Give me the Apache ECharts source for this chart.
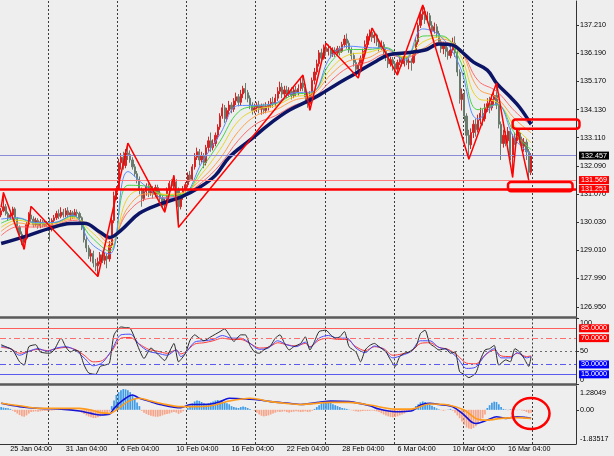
<!DOCTYPE html>
<html><head><meta charset="utf-8">
<script src="https://cdn.jsdelivr.net/npm/echarts@6/dist/echarts.min.js"></script>
<style>html,body{margin:0;padding:0;background:#eeeeee}#c{width:614px;height:456px}</style>
</head><body><div id="c"></div>
<script>
// ---------- data ----------
const slotCount = 250;
const timeLabels = ['25 Jan 04:00','31 Jan 04:00','6 Feb 04:00','10 Feb 04:00','16 Feb 04:00','22 Feb 04:00','28 Feb 04:00','6 Mar 04:00','10 Mar 04:00','16 Mar 04:00'];
const timeLabelIdx = [4,28,52,76,100,124,148,172,196,220];
const weekStartIdx = [21,51,81,111,141,171,201,231];
const priceTicks = [137.21,136.19,135.17,134.13,133.11,132.09,131.07,130.03,129.01,127.99,126.95];
const rsiTicks = [0,50,100];
const macdTicks = [1.28049,0,-1.83517];
const bidPrice = 132.457;
const levelA = 131.569;
const levelB = 131.251;
const rsiLevels = [85,70,50,30,15];

// [open, close, low, high]
const candles = [
[130.30,130.45,130.22,130.55],[130.45,130.60,130.40,131.12],[130.60,130.35,130.28,130.70],[130.35,130.20,130.10,130.42],[130.20,130.30,130.12,130.45],
[130.30,130.52,130.25,130.60],[130.52,130.15,130.05,130.58],[130.15,129.85,129.75,130.22],[129.85,129.60,129.50,129.92],[129.60,129.30,129.20,129.70],
[129.30,129.45,129.05,129.55],[129.45,129.95,129.40,130.05],[129.95,130.30,129.88,130.40],[130.30,130.15,130.05,130.61],[130.15,129.95,129.85,130.25],
[129.95,130.10,129.88,130.20],[130.10,129.90,129.80,130.18],[129.90,130.05,129.82,130.15],[130.05,129.92,129.85,130.12],[129.92,130.02,129.86,130.10],
[130.02,129.95,129.88,130.08],[129.95,129.85,129.35,130.20],[129.85,130.10,129.70,130.18],[130.10,130.20,130.02,130.30],[130.20,130.35,130.12,130.45],
[130.35,130.25,130.15,130.50],[130.25,130.40,130.18,130.58],[130.40,130.30,130.20,130.52],[130.30,130.45,130.22,130.55],[130.45,130.30,130.20,130.58],
[130.30,130.38,130.10,130.48],[130.38,130.25,130.15,130.45],[130.25,130.40,130.18,130.52],[130.40,130.35,130.22,130.50],[130.35,130.20,130.05,130.42],
[130.20,129.85,129.75,130.25],[129.85,129.40,129.30,129.95],[129.40,129.10,128.95,129.50],[129.10,128.80,128.70,129.20],[128.80,128.90,128.60,129.05],
[128.90,128.55,128.40,129.00],[128.55,128.45,128.25,128.70],[128.45,128.60,128.06,128.75],[128.60,128.85,128.50,128.95],[128.85,128.65,128.55,129.00],
[128.65,128.80,128.50,128.95],[128.80,128.70,128.36,128.90],[128.70,129.20,128.60,129.35],[129.20,130.10,129.10,130.25],[130.10,131.00,130.00,131.15],
[131.00,131.25,130.85,131.35],[131.25,132.20,131.20,132.35],[132.20,132.40,131.95,132.55],[132.40,132.10,131.95,132.60],[132.10,132.55,132.00,132.70],
[132.55,132.50,132.30,132.91],[132.50,132.30,132.20,132.65],[132.30,132.05,131.95,132.40],[132.05,131.80,131.70,132.15],[131.80,131.60,131.45,131.90],
[131.60,131.20,131.05,131.70],[131.20,130.90,130.60,131.30],[130.90,131.15,130.80,131.25],[131.15,131.35,131.00,131.45],[131.35,131.10,130.95,131.45],
[131.10,131.25,131.00,131.40],[131.25,131.05,130.90,131.35],[131.05,131.30,130.95,131.40],[131.30,131.10,130.95,131.40],[131.10,130.90,130.75,131.20],
[130.90,130.65,130.55,131.00],[130.65,130.80,130.40,130.90],[130.80,131.20,130.70,131.30],[131.20,131.45,131.10,131.55],[131.45,131.35,131.20,131.60],
[131.35,131.50,131.25,131.74],[131.50,131.20,131.05,131.60],[131.20,130.60,129.85,131.30],[130.60,131.00,130.50,131.10],[131.00,131.20,130.85,131.35],
[131.20,131.40,131.05,131.50],[131.40,131.75,131.30,131.85],[131.75,131.60,131.50,131.90],[131.60,132.05,131.55,132.15],[132.05,132.40,131.95,132.55],
[132.40,132.60,132.30,132.75],[132.60,132.30,132.10,132.70],[132.30,132.45,132.20,132.60],[132.45,132.20,132.00,132.55],[132.20,132.75,132.10,132.85],
[132.75,133.00,132.60,133.15],[133.00,132.75,132.60,133.30],[132.75,132.90,132.65,133.05],[132.90,133.20,132.80,133.30],[133.20,133.50,133.05,133.60],
[133.50,133.90,133.40,134.00],[133.90,134.20,133.80,134.35],[134.20,133.80,133.65,134.30],[133.80,134.10,133.70,134.20],[134.10,134.30,133.95,134.45],
[134.30,134.15,134.00,134.40],[134.15,134.45,134.05,134.55],[134.45,134.60,134.30,134.75],[134.60,134.40,134.25,134.70],[134.40,134.70,134.30,134.85],
[134.70,134.90,134.55,135.00],[134.90,134.75,134.50,135.10],[134.75,134.55,134.40,134.85],[134.55,134.30,134.15,134.65],[134.30,134.10,133.95,134.40],
[134.10,134.20,134.00,134.35],[134.20,134.30,134.05,134.40],[134.30,134.15,134.00,134.45],[134.15,134.25,133.95,134.35],[134.25,134.10,133.98,134.35],
[134.10,134.25,134.00,134.40],[134.25,134.30,134.10,134.45],[134.30,134.40,134.20,134.55],[134.40,134.35,134.20,134.60],[134.35,134.55,134.25,134.70],
[134.55,134.80,134.45,134.95],[134.80,134.95,134.70,135.15],[134.95,134.70,134.55,135.10],[134.70,134.85,134.60,135.00],[134.85,134.70,134.55,135.00],
[134.70,134.80,134.60,134.95],[134.80,134.65,134.50,134.95],[134.65,134.85,134.55,134.95],[134.85,134.75,134.60,135.00],[134.75,134.90,134.65,135.05],
[134.90,135.10,134.80,135.25],[135.10,134.95,134.80,135.39],[134.95,134.60,134.45,135.05],[134.60,134.35,134.20,134.70],[134.35,134.70,134.11,134.80],
[134.70,135.20,134.60,135.30],[135.20,135.50,135.05,135.65],[135.50,135.80,135.40,135.95],[135.80,136.20,135.70,136.30],[136.20,136.00,135.85,136.35],
[136.00,136.40,135.95,136.50],[136.40,136.25,136.10,136.55],[136.25,136.35,136.10,136.50],[136.35,136.15,136.00,136.45],[136.15,136.30,136.05,136.40],
[136.30,136.20,136.05,136.40],[136.20,136.35,136.10,136.45],[136.35,136.25,136.10,136.45],[136.25,136.50,136.20,136.60],[136.50,136.70,136.40,136.85],
[136.70,136.55,136.35,136.90],[136.55,136.30,136.20,136.65],[136.30,136.10,135.95,136.40],[136.10,135.85,135.70,136.20],[135.85,135.60,135.45,135.95],
[135.60,135.75,135.28,135.85],[135.75,136.00,135.65,136.10],[136.00,136.25,135.90,136.35],[136.25,136.50,136.15,136.65],[136.50,136.80,136.40,136.90],
[136.80,136.95,136.65,137.05],[136.95,136.75,136.60,137.10],[136.75,136.85,136.55,136.95],[136.85,136.60,136.45,136.90],[136.60,136.40,136.25,136.70],
[136.40,136.50,136.30,136.65],[136.50,136.25,136.10,136.60],[136.25,136.05,135.90,136.35],[136.05,135.80,135.65,136.15],[135.80,135.95,135.70,136.05],
[135.95,135.80,135.55,136.05],[135.80,135.60,135.45,135.90],[135.60,135.85,135.39,135.95],[135.85,135.95,135.75,136.10],[135.95,135.80,135.70,136.05],
[135.80,135.95,135.70,136.05],[135.95,135.85,135.75,136.05],[135.85,135.90,135.60,136.00],[135.90,135.85,135.55,136.00],[135.85,136.20,135.80,136.30],
[136.20,136.60,136.10,136.75],[136.60,137.20,136.50,137.30],[137.20,137.60,137.10,137.75],[137.60,137.70,137.40,137.94],[137.70,137.40,137.25,137.85],
[137.40,137.55,137.30,137.70],[137.55,137.20,137.05,137.65],[137.20,137.00,136.85,137.35],[137.00,137.15,136.90,137.30],[137.15,136.90,136.75,137.25],
[136.90,136.60,136.50,137.00],[136.60,136.35,136.20,136.70],[136.35,136.50,136.15,136.60],[136.50,136.25,136.05,136.60],[136.25,136.10,135.95,136.40],
[136.10,136.30,136.00,136.45],[136.30,136.55,136.20,136.75],[136.55,136.20,136.05,136.80],[136.20,135.50,135.35,136.30],[135.50,134.50,134.35,135.60],
[134.50,134.70,134.10,134.90],[134.70,133.90,133.70,134.85],[133.90,133.20,132.90,134.00],[133.20,132.85,132.33,133.40],[132.85,133.30,132.70,133.45],
[133.30,133.60,133.10,133.75],[133.60,133.40,133.15,133.80],[133.40,133.75,133.30,133.95],[133.75,134.00,133.60,134.20],[134.00,133.80,133.55,134.15],
[133.80,134.20,133.70,134.35],[134.20,134.35,134.05,134.55],[134.35,134.20,134.00,134.60],[134.20,134.50,134.10,134.70],[134.50,134.65,134.30,134.85],
[134.65,134.30,134.15,135.10],[134.30,133.60,133.45,134.40],[133.60,132.90,132.30,133.70],[132.90,133.20,132.75,133.40],[133.20,133.00,132.80,133.35],
[133.00,133.35,132.90,133.50],[133.35,132.40,132.30,133.45],[132.40,133.10,131.67,133.25],[133.10,133.00,132.85,133.30],[133.00,133.30,132.90,133.46],
[133.30,133.05,132.90,133.40],[133.05,132.80,132.65,133.15],[132.80,132.95,132.60,133.10],[132.95,132.60,132.30,133.05],[132.60,131.85,131.56,132.70],
[131.85,132.457,131.75,132.55]
];

const zigzag = [[0,130.58],[1,131.12],[10,129.05],[13,130.61],[42,128.06],[55,132.91],[71,130.40],[75,131.74],[77,129.85],[131,135.39],[134,134.11],[141,136.55],[155,135.28],[161,137.10],[172,135.39],[183,137.94],[203,132.33],[215,135.10],[222,131.67],[224,133.46],[229,131.56]];

const navyMA = [[0,129.26],[12,129.56],[21,129.81],[30,129.99],[36,130.0],[43,129.67],[47,129.48],[52,129.74],[60,130.36],[69,130.7],[78,130.95],[86,131.3],[93,131.74],[99,132.4],[108,133.02],[117,133.64],[125,134.11],[134,134.48],[138,134.66],[145,135.02],[154,135.46],[162,135.86],[168,136.12],[175,136.19],[184,136.3],[190,136.52],[196,136.48],[200,136.23],[205,135.86],[211,135.57],[215,135.1],[221,134.59],[225,134.22],[230,133.6]];

const rainbowIdx = [0,7,15,23,31,39,47,55,63,71,79,87,95,103,111,119,127,135,143,151,159,167,175,183,191,199,207,215,223,230];
const maBlue   = [130.15,130.20,130.02,130.03,130.29,129.27,128.88,131.88,131.33,130.91,131.01,132.19,133.24,134.28,134.29,134.37,134.74,134.78,136.05,136.44,136.39,136.36,135.93,137.07,136.78,135.72,133.79,134.34,133.05,132.50];
const maGreen  = [130.00,130.18,130.01,130.02,130.26,129.51,128.98,131.38,131.35,131.00,131.05,131.98,132.98,134.05,134.27,134.34,134.68,134.76,135.85,136.32,136.32,136.39,135.99,136.81,136.82,135.96,134.13,134.31,133.26,132.68];
const maYellow = [129.85,130.11,129.99,130.01,130.21,129.70,129.13,130.93,131.23,131.05,131.08,131.79,132.68,133.72,134.14,134.27,134.59,134.72,135.61,136.13,136.21,136.36,136.04,136.59,136.78,136.16,134.54,134.41,133.52,132.93];
const maOrange = [129.70,130.01,129.93,129.97,130.16,129.88,129.28,130.57,131.07,131.04,131.12,131.61,132.35,133.34,133.93,134.12,134.47,134.66,135.40,135.91,136.01,136.29,136.06,136.35,136.70,136.33,134.91,134.57,133.79,133.29];
const maRed    = [129.55,129.87,129.86,129.92,130.10,129.90,129.41,130.40,130.88,130.94,131.05,131.48,132.13,133.02,133.63,133.91,134.28,134.51,135.17,135.68,135.86,136.15,136.02,136.27,136.59,136.34,135.19,134.80,134.07,133.56];

const rsiBlack = [[0,60],[2,57],[5,52],[8,34],[10,29],[12,57],[15,60],[17,49],[21,47],[23,52],[26,70],[28,57],[30,49],[32,52],[34,49],[36,29],[38,17],[41,15],[43,27],[45,29],[47,32],[49,75],[52,87],[54,86],[56,85],[58,70],[60,52],[62,39],[65,55],[67,49],[69,42],[71,36],[73,49],[75,62],[77,34],[80,47],[82,67],[84,75],[86,70],[88,66],[91,72],[95,80],[97,84],[99,75],[101,65],[104,75],[106,75],[108,59],[110,49],[112,47],[114,52],[117,59],[119,70],[121,75],[123,62],[125,52],[127,57],[130,62],[132,72],[134,52],[136,65],[138,80],[141,82],[143,75],[145,70],[147,72],[149,80],[151,57],[154,49],[156,34],[158,52],[160,59],[162,62],[164,57],[167,49],[169,37],[171,27],[173,42],[175,47],[177,49],[180,57],[182,77],[184,82],[186,62],[188,57],[190,52],[193,54],[195,47],[197,49],[199,19],[201,15],[203,10],[206,17],[208,37],[210,52],[212,54],[214,59],[216,29],[219,37],[221,34],[223,54],[225,49],[227,39],[229,27],[230,42]];
const rsiBlue = [[0,58],[4,54],[8,44],[12,50],[16,54],[20,50],[24,55],[28,57],[32,52],[36,40],[40,28],[44,33],[48,52],[52,75],[56,76],[60,60],[64,50],[68,47],[72,44],[76,52],[78,42],[80,47],[84,64],[88,66],[92,68],[96,74],[100,70],[104,70],[108,62],[112,53],[116,55],[120,66],[124,60],[128,57],[132,64],[134,56],[138,70],[142,74],[146,70],[150,70],[154,55],[158,48],[162,58],[166,53],[170,40],[174,44],[178,50],[182,66],[186,66],[190,56],[194,52],[198,40],[202,24],[206,26],[210,44],[214,54],[217,40],[221,40],[224,48],[228,40],[230,42]];
const rsiRed = [[0,56],[4,54],[8,47],[12,50],[16,53],[20,51],[24,54],[28,56],[32,53],[36,44],[40,34],[44,36],[48,50],[52,70],[56,71],[60,61],[64,53],[68,50],[72,47],[76,52],[78,46],[80,49],[84,61],[88,63],[92,66],[96,70],[100,68],[104,68],[108,62],[112,55],[116,56],[120,63],[124,60],[128,58],[132,62],[134,57],[138,67],[142,70],[146,68],[150,68],[154,57],[158,51],[162,57],[166,54],[170,44],[174,46],[178,50],[182,62],[186,63],[190,56],[194,53],[198,44],[202,32],[206,31],[210,44],[214,52],[217,43],[221,42],[224,47],[228,42],[230,43]];

const macdHist = [
0.15,0.12,0.1,0.08,0.05,
-0.05,-0.12,-0.2,-0.28,-0.35,-0.37,-0.3,-0.2,
-0.12,-0.1,-0.08,-0.1,-0.08,-0.06,-0.05,-0.06,-0.05,-0.04,
-0.02,0.02,0.04,0.05,0.03,0.02,0.01,0.02,0.01,-0.02,-0.04,-0.08,
-0.15,-0.22,-0.3,-0.36,-0.4,-0.44,-0.44,-0.4,-0.35,-0.3,-0.28,-0.25,-0.1,
0.2,0.5,0.8,0.95,1.05,1.12,1.1,1.05,0.95,0.8,0.6,0.4,0.2,
-0.05,-0.15,-0.22,-0.28,-0.32,-0.35,-0.37,-0.37,-0.35,-0.3,-0.25,-0.22,-0.2,-0.15,-0.12,-0.15,-0.22,-0.15,-0.08,-0.02,
0.1,0.25,0.35,0.45,0.5,0.48,0.42,0.35,0.3,0.35,0.4,0.45,0.5,0.53,0.5,0.45,0.4,0.35,0.3,0.2,
0.15,0.12,0.1,0.15,0.18,0.15,0.1,0.05,0.0,-0.05,
-0.15,-0.25,-0.32,-0.35,-0.33,-0.3,-0.25,-0.2,-0.15,-0.1,-0.12,-0.1,-0.08,-0.12,-0.15,
-0.12,-0.1,-0.08,-0.1,-0.12,-0.1,-0.08,-0.12,-0.1,-0.05,0.05,0.15,
0.25,0.35,0.42,0.48,0.45,0.4,0.3,0.25,0.2,0.15,
0.1,0.08,0.05,0.02,-0.02,-0.05,-0.08,-0.1,-0.08,-0.06,-0.05,-0.06,-0.05,-0.04,-0.06,-0.08,
-0.12,-0.18,-0.25,-0.3,-0.35,-0.38,-0.4,-0.38,-0.35,-0.3,-0.25,-0.2,-0.12,-0.06,0.0,
0.08,0.2,0.3,0.4,0.45,0.42,0.38,0.3,0.22,0.15,0.08,0.03,
-0.02,-0.05,-0.02,0.02,0.05,
-0.05,-0.15,-0.3,-0.45,-0.62,-0.8,-0.95,-1.0,-1.03,-0.98,-0.88,-0.75,-0.6,-0.45,-0.25,
0.1,0.25,0.38,0.44,0.42,0.3,
0.15,0.05,0.02,-0.02,0.03,0.05,0.02,-0.02,0.01,-0.03,-0.06,
-0.12,-0.18,-0.15
];
const macdMain = [[0,0.35],[8,0.17],[17,0.07],[26,0.04],[34,-0.06],[39,-0.19],[43,-0.28],[47,-0.24],[49,0.08],[53,0.53],[57,0.8],[60,0.62],[65,0.44],[69,0.29],[78,0.11],[82,0.29],[86,0.29],[91,0.31],[95,0.44],[99,0.62],[108,0.57],[112,0.53],[117,0.44],[125,0.35],[130,0.29],[138,0.4],[143,0.47],[151,0.44],[160,0.22],[164,0.04],[171,-0.1],[178,-0.06],[182,0.26],[186,0.35],[190,0.29],[196,0.17],[201,-0.28],[204,-0.64],[206,-0.73],[211,-0.55],[215,-0.37],[219,-0.46],[224,-0.37],[228,-0.42],[230,-0.46]];
const macdSignal = [[0,0.35],[8,0.22],[17,0.08],[26,0.08],[34,0.08],[39,-0.01],[43,-0.15],[47,-0.19],[51,0.08],[55,0.44],[60,0.62],[65,0.47],[69,0.35],[78,0.17],[82,0.17],[91,0.22],[99,0.47],[108,0.62],[117,0.44],[125,0.33],[130,0.29],[143,0.4],[151,0.4],[160,0.26],[171,0.04],[178,0.04],[186,0.31],[194,0.26],[201,-0.01],[206,-0.46],[211,-0.55],[217,-0.46],[224,-0.42],[230,-0.46]];

// annotations: [idxStart, valueTop, idxEnd, valueBottom]
const boxUpper = [221.6,133.77,251.0,133.44];
const boxLower = [219.6,131.50,247.8,131.16];
const macdCircle = [222.2,0.63,237.8,-1.03];

// ---------- chart ----------
const FONT = 'Liberation Sans';
const FS = 7.2;
const slots = Array.from({length: slotCount}, (_, i) => String(i));
const chart = echarts.init(document.getElementById('c'), null, {renderer: 'canvas'});

function xAx(k, sepWidth, sepColor) {
  return {
    type: 'category', gridIndex: k, data: slots, boundaryGap: true,
    axisLine: {show: true, onZero: false, lineStyle: {color: sepColor, width: sepWidth}},
    axisTick: {show: false},
    axisLabel: k === 2 ? {
      show: true, interval: (i) => timeLabelIdx.includes(i), align: 'left', margin: 2,
      fontSize: FS, fontFamily: FONT, color: '#000',
      formatter: (v) => timeLabels[timeLabelIdx.indexOf(Number(v))] || ''
    } : {show: false},
    splitLine: {show: true, interval: (i) => weekStartIdx.includes(i), lineStyle: {color: '#3c3c3c', type: [2, 2], width: 1}}
  };
}
const yLabelBase = {fontSize: FS, fontFamily: FONT, color: '#000', margin: 4};
const lvlLabel = (bg, val, digits) => ({show: true, position: 'end', distance: 3, color: '#fff', backgroundColor: bg,
  fontSize: FS, fontFamily: FONT, padding: [1, 2, 0, 2], formatter: () => val.toFixed(digits)});

const rainbow = [
  {d: maRed, c: '#ff6a6a'}, {d: maOrange, c: '#ffa04a'}, {d: maYellow, c: '#e8d52a'},
  {d: maGreen, c: '#49d449'}, {d: maBlue, c: '#5a8cff'}
];

const option = {
  backgroundColor: '#eeeeee',
  animation: false,
  grid: [
    {left: 0, right: 38, top: 1, height: 316.5},
    {left: 0, right: 38, top: 318.4, height: 65.8},
    {left: 0, right: 38, top: 386, height: 58}
  ],
  xAxis: [xAx(0, 2.5, '#5a5a5a'), xAx(1, 2.5, '#5a5a5a'), xAx(2, 1, '#333')],
  yAxis: [
    {type: 'value', gridIndex: 0, position: 'right', min: 126.569, max: 138.085, scale: true,
      axisLine: {show: true, lineStyle: {color: '#333', width: 1}},
      axisTick: {show: true, length: 3, customValues: priceTicks, lineStyle: {color: '#333'}},
      axisLabel: Object.assign({customValues: priceTicks, formatter: (v) => v.toFixed(3)}, yLabelBase),
      splitLine: {show: false}},
    {type: 'value', gridIndex: 1, position: 'right', min: 0, max: 100,
      axisLine: {show: true, lineStyle: {color: '#333', width: 1}},
      axisTick: {show: true, length: 3, customValues: rsiTicks, lineStyle: {color: '#333'}},
      axisLabel: Object.assign({customValues: rsiTicks,
        formatter: (v) => v === 100 ? '{t|100}' : (v === 0 ? '{b|0}' : String(v)),
        rich: {t: {padding: [10, 0, 0, 0], fontSize: FS, fontFamily: FONT}, b: {padding: [0, 0, 8, 0], fontSize: FS, fontFamily: FONT}}}, yLabelBase),
      splitLine: {show: false}},
    {type: 'value', gridIndex: 2, position: 'right', min: -1.83517, max: 1.28049,
      axisLine: {show: true, lineStyle: {color: '#333', width: 1}},
      axisTick: {show: true, length: 3, customValues: [0], lineStyle: {color: '#333'}},
      axisLabel: Object.assign({customValues: macdTicks,
        formatter: (v) => v > 1 ? '{t|' + v.toFixed(5) + '}' : (v < -1 ? '{b|' + v.toFixed(5) + '}' : v.toFixed(2)),
        rich: {t: {padding: [14, 0, 0, 0], fontSize: FS, fontFamily: FONT}, b: {padding: [0, 0, 10, 0], fontSize: FS, fontFamily: FONT}}}, yLabelBase),
      splitLine: {show: false}}
  ],
  series: [
    {type: 'candlestick', xAxisIndex: 0, yAxisIndex: 0, data: candles, barWidth: 1.7,
      itemStyle: {color: '#d62424', color0: '#6a7a6c', borderColor: '#d62424', borderColor0: '#6a7a6c', borderWidth: 1},
      markLine: {symbol: 'none', silent: true, animation: false, data: [
        {yAxis: bidPrice, lineStyle: {color: '#8c8cd6', width: 1, type: 'solid'}, label: lvlLabel('#000000', bidPrice, 3)},
        {yAxis: levelA, lineStyle: {color: '#ff7c7c', width: 1, type: 'solid'}, label: lvlLabel('#ff0000', levelA, 3)},
        {yAxis: levelB, lineStyle: {color: '#ff0000', width: 2.5, type: 'solid'}, label: lvlLabel('#ff0000', levelB, 3)}
      ]}},
    ...rainbow.map(r => ({type: 'line', xAxisIndex: 0, yAxisIndex: 0, data: rainbowIdx.map((ix, k) => [ix, r.d[k]]),
      smooth: 0.4, showSymbol: false, lineStyle: {color: r.c, width: 1}, z: 3})),
    {type: 'line', xAxisIndex: 0, yAxisIndex: 0, data: navyMA, smooth: 0.4, showSymbol: false,
      lineStyle: {color: '#0c1565', width: 3.5}, z: 4},
    {type: 'line', xAxisIndex: 0, yAxisIndex: 0, data: zigzag, showSymbol: false,
      lineStyle: {color: '#ff0000', width: 1.5}, z: 5},
    {type: 'line', xAxisIndex: 1, yAxisIndex: 1, data: rsiRed, showSymbol: false, smooth: 0.3,
      lineStyle: {color: '#ff3b3b', width: 1},
      markLine: {symbol: 'none', silent: true, animation: false, data: [
        {yAxis: rsiLevels[0], lineStyle: {color: '#ff5c5c', width: 1, type: 'solid'}, label: lvlLabel('#ff0000', rsiLevels[0], 4)},
        {yAxis: rsiLevels[1], lineStyle: {color: '#ff6e6e', width: 1, type: [6, 3, 2, 3]}, label: lvlLabel('#ff0000', rsiLevels[1], 4)},
        {yAxis: rsiLevels[2], lineStyle: {color: '#6c6c6c', width: 1, type: [2, 3]}, label: {show: false}},
        {yAxis: rsiLevels[3], lineStyle: {color: '#5a5aee', width: 1, type: [6, 3, 2, 3]}, label: lvlLabel('#0000ff', rsiLevels[3], 4)},
        {yAxis: rsiLevels[4], lineStyle: {color: '#5a5aee', width: 1, type: 'solid'}, label: lvlLabel('#0000ff', rsiLevels[4], 4)}
      ]}},
    {type: 'line', xAxisIndex: 1, yAxisIndex: 1, data: rsiBlue, showSymbol: false, smooth: 0.3,
      lineStyle: {color: '#4a4aff', width: 1}},
    {type: 'line', xAxisIndex: 1, yAxisIndex: 1, data: rsiBlack, showSymbol: false, smooth: 0.2,
      lineStyle: {color: '#2a2a2a', width: 1}},
    {type: 'bar', xAxisIndex: 2, yAxisIndex: 2, data: macdHist, barWidth: 1.7,
      itemStyle: {color: (p) => p.value >= 0 ? '#3f9be6' : '#f7a58a'}},
    {type: 'line', xAxisIndex: 2, yAxisIndex: 2, data: macdMain, showSymbol: false, smooth: 0.3,
      lineStyle: {color: '#1414d8', width: 1.6}, z: 4},
    {type: 'line', xAxisIndex: 2, yAxisIndex: 2, data: macdSignal, showSymbol: false, smooth: 0.3,
      lineStyle: {color: '#ff9a1a', width: 1.6}, z: 5}
  ]
};
chart.setOption(option);

function boxGraphic(gridIndex, b, r) {
  const p1 = chart.convertToPixel({gridIndex: gridIndex}, [b[0], b[1]]);
  const p2 = chart.convertToPixel({gridIndex: gridIndex}, [b[2], b[3]]);
  return {type: 'rect', z: 100, shape: {x: p1[0], y: p1[1], width: p2[0] - p1[0], height: p2[1] - p1[1], r: r},
    style: {fill: 'none', stroke: '#ff0000', lineWidth: 2.5}};
}
const c1 = chart.convertToPixel({gridIndex: 2}, [macdCircle[0], macdCircle[1]]);
const c2 = chart.convertToPixel({gridIndex: 2}, [macdCircle[2], macdCircle[3]]);
chart.setOption({graphic: [
  boxGraphic(0, boxUpper, 3),
  boxGraphic(0, boxLower, 3),
  {type: 'ellipse', z: 100, shape: {cx: (c1[0] + c2[0]) / 2, cy: (c1[1] + c2[1]) / 2, rx: (c2[0] - c1[0]) / 2, ry: (c2[1] - c1[1]) / 2},
    style: {fill: 'none', stroke: '#ff0000', lineWidth: 2.5}}
]});
</script>
</body></html>
